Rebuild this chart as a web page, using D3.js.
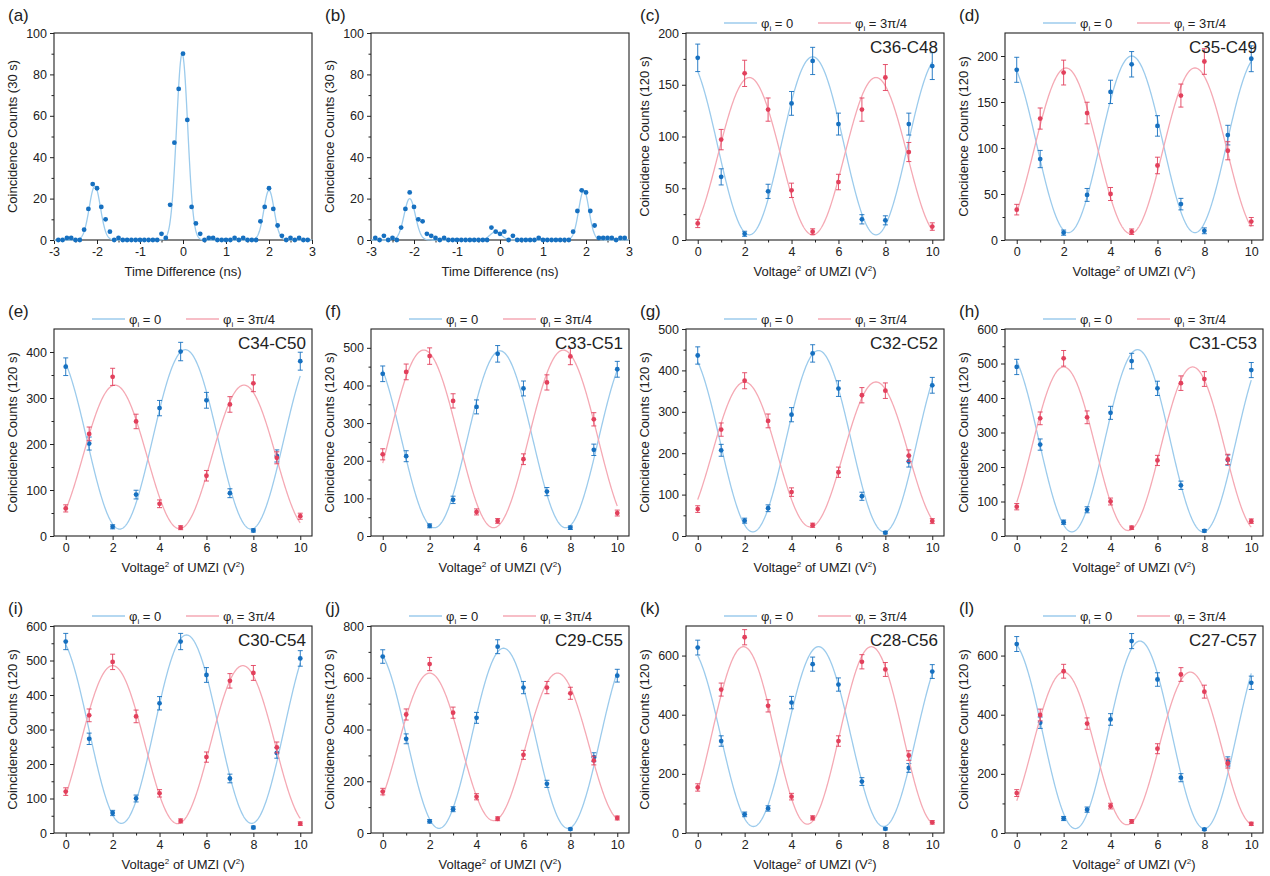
<!DOCTYPE html>
<meta charset="utf-8">
<head>
<script src="https://cdn.jsdelivr.net/npm/d3@7"></script>
<style>
  body { margin: 0; background: #fff; }
  text { font-family: "Liberation Sans", Arial, sans-serif; fill: #222; }
  .dom { fill: none; stroke: #222; stroke-width: 1.1px; }
</style>
</head>
<body>
<svg width="1270" height="876"></svg>
<script>
// ---- data ----
var tdX = d3.range(-29, 30).map(function (i) { return i / 10; });
var countsA = [0,0,1,1,0,0,5,15,27,25,16,10,4,0,1,0,0,0,0,0,0,0,0,0,3,1,17,47,73,90,58,16,8,3,0,1,1,0,0,0,0,1,0,1,0,0,0,9,16,25,15,7,2,0,1,0,1,0,0];
var countsB = [1,0,2,0,1,0,6,15,23,16,10,9,3,2,1,0,1,0,0,0,0,0,0,0,0,0,0,6,4,3,4,0,2,0,0,0,0,0,1,0,0,0,0,0,0,0,4,14,24,23,14,7,1,1,1,1,0,1,1];
// gaussian fit peaks: [centre, height, sigma]
var fitA = [[-2.05, 26, 0.13], [-0.02, 90, 0.13], [2.0, 24, 0.12]];
var fitB = [[-2.1, 20, 0.13], [-0.1, 4, 0.13], [1.95, 24, 0.12]];

var voltX = [0, 1, 2, 3, 4, 4.9, 6, 7, 8, 9, 10];
var pairs = ["C36-C48","C35-C49","C34-C50","C33-C51","C32-C52","C31-C53","C30-C54","C29-C55","C28-C56","C27-C57"];
var panelTags = ["(c)","(d)","(e)","(f)","(g)","(h)","(i)","(j)","(k)","(l)"];
var yMax = [200, 225, 450, 550, 500, 600, 600, 800, 700, 700];
var yStep = [50, 50, 100, 100, 100, 100, 100, 200, 200, 200];
var blueCounts = [
  [176,61,6,47,132,173,112,20,19,112,168],
  [185,88,8,49,161,191,124,39,10,114,197],
  [368,201,20,90,278,401,295,93,12,174,380],
  [431,212,27,96,343,484,392,118,22,229,443],
  [436,207,37,67,293,441,356,96,8,180,364],
  [490,265,40,76,357,507,428,147,15,220,481],
  [555,273,58,100,376,555,458,158,16,232,506],
  [682,364,45,92,445,720,562,190,15,293,608],
  [627,311,63,83,441,571,502,174,14,220,546],
  [639,373,49,79,384,649,519,187,12,242,508]
];
var redCounts = [
  [16,97,161,126,48,8,56,126,157,85,13],
  [33,132,182,138,50,9,81,157,194,97,20],
  [60,222,346,249,70,18,131,286,332,170,43],
  [217,436,478,359,64,40,204,408,477,310,61],
  [65,257,375,278,106,26,154,340,351,194,36],
  [85,341,515,344,100,24,219,443,455,222,43],
  [120,341,496,338,115,35,220,441,464,248,27],
  [160,458,653,465,140,55,302,562,540,280,58],
  [154,485,662,430,123,51,311,579,553,262,36],
  [135,399,547,370,91,39,285,536,478,235,31]
];
// cosine fits: [offset, amplitude, peak position, period]
var blueFit = [[91,86,4.9,5.4],[104,96,4.9,5.4],[210,195,5.1,5.6],[257,235,5.0,5.6],[229,219,5.15,5.6],
  [276,264,5.15,5.6],[301,273,5.15,5.55],[366,348,5.15,5.5],[326,304,5.15,5.55],[332,317,5.25,5.5]];
var redFit = [[81,76,2.2,5.4],[97,90,2.1,5.5],[172,156,2.1,5.5],[258,236,1.75,5.95],[197,175,2.0,5.6],
  [253,237,2.0,5.5],[256,229,2.0,5.55],[333,285,2.0,5.45],[330,300,1.95,5.45],[286,258,2.0,5.4]];

var blueDot = "#1670c0", blueLine = "#9ccbec", redDot = "#e2405c", redLine = "#f5a9b4";

// ---- layout ----
var colX = [54, 371, 686, 1005], pw = 258, ph = 207;
var rowY = [33, 329, 626];
var svg = d3.select("svg");
var blank = function () { return ""; };

function frame(px, py, x, y, xTicks, yTicks, xMinor, yMinor, tag, ytitle, xtitleSup) {
  var g = svg.append("g").attr("transform", "translate(" + px + "," + py + ")");
  g.append("rect").attr("class", "dom").attr("width", pw).attr("height", ph);
  var fmt = function (d) { return d < 0 ? "-" + Math.abs(d) : String(d); };
  g.append("g").attr("transform", "translate(0," + ph + ")")
    .call(d3.axisBottom(x).tickValues(xTicks).tickSize(4).tickSizeOuter(0).tickFormat(fmt));
  g.append("g").attr("transform", "translate(0," + ph + ")")
    .call(d3.axisBottom(x).tickValues(xMinor).tickSize(2.5).tickFormat(blank));
  g.append("g").call(d3.axisLeft(y).tickValues(yTicks).tickSize(4).tickSizeOuter(0).tickFormat(fmt));
  g.append("g").call(d3.axisLeft(y).tickValues(yMinor).tickSize(2.5).tickFormat(blank));
  g.selectAll(".domain").remove();
  g.selectAll(".tick line").attr("stroke", "#222");
  g.selectAll(".tick text").attr("font-size", 12.5).attr("fill", "#222")
    .attr("font-family", "Liberation Sans, Arial, sans-serif");
  g.append("text").attr("x", -46).attr("y", -12).attr("font-size", 17).text(tag);
  g.append("text").attr("transform", "translate(-37," + ph / 2 + ") rotate(-90)")
    .attr("text-anchor", "middle").attr("font-size", 13).text(ytitle);
  var xt = g.append("text").attr("x", pw / 2).attr("y", ph + 36).attr("text-anchor", "middle").attr("font-size", 13);
  if (xtitleSup) {
    xt.append("tspan").text("Voltage");
    xt.append("tspan").attr("font-size", 8).attr("dy", -5).text("2");
    xt.append("tspan").attr("dy", 5).text(" of UMZI (V");
    xt.append("tspan").attr("font-size", 8).attr("dy", -5).text("2");
    xt.append("tspan").attr("dy", 5).text(")");
  } else {
    xt.text("Time Difference (ns)");
  }
  return g;
}

// time-difference panels
[[countsA, fitA, "(a)"], [countsB, fitB, "(b)"]].forEach(function (p, i) {
  var x = d3.scaleLinear().domain([-3, 3]).range([0, pw]);
  var y = d3.scaleLinear().domain([0, 100]).range([ph, 0]);
  var g = frame(colX[i], rowY[0], x, y, d3.range(-3, 4), d3.range(0, 101, 20),
    d3.range(-2.5, 3, 1), d3.range(10, 100, 20), p[2], "Coincidence Counts (30 s)", false);
  var fx = d3.range(-3, 3.0001, 0.01);
  var model = function (t) {
    return d3.sum(p[1], function (q) { return q[1] * Math.exp(-Math.pow(t - q[0], 2) / (2 * q[2] * q[2])); });
  };
  g.append("path").datum(fx).attr("fill", "none").attr("stroke", blueLine).attr("stroke-width", 1.3)
    .attr("d", d3.line().x(function (t) { return x(t); }).y(function (t) { return y(model(t)); }));
  g.selectAll("circle").data(p[0]).enter().append("circle")
    .attr("cx", function (d, k) { return x(tdX[k]); }).attr("cy", function (d) { return y(d); })
    .attr("r", 2.4).attr("fill", blueDot);
});

// interference panels
pairs.forEach(function (name, i) {
  var slot = i + 2, col = slot % 4, row = Math.floor(slot / 4);
  var x = d3.scaleLinear().domain([-0.5, 10.5]).range([0, pw]);
  var y = d3.scaleLinear().domain([0, yMax[i]]).range([ph, 0]);
  var yt = d3.range(0, yMax[i] + 1, yStep[i]);
  var ym = d3.range(yStep[i] / 2, yMax[i], yStep[i]);
  var g = frame(colX[col], rowY[row], x, y, d3.range(0, 11, 2), yt, d3.range(1, 10, 2), ym,
    panelTags[i], "Coincidence Counts (120 s)", true);

  var fx = d3.range(0, 10.0001, 0.02);
  [[blueFit[i], blueLine, blueCounts[i], blueDot], [redFit[i], redLine, redCounts[i], redDot]].forEach(function (s) {
    var f = s[0];
    g.append("path").datum(fx).attr("fill", "none").attr("stroke", s[1]).attr("stroke-width", 1.3)
      .attr("d", d3.line().x(function (t) { return x(t); })
        .y(function (t) { return y(f[0] + f[1] * Math.cos(2 * Math.PI * (t - f[2]) / f[3])); }));
    var pts = g.append("g");
    s[2].forEach(function (v, k) {
      var e = Math.sqrt(v), cx = x(voltX[k]);
      pts.append("path").attr("stroke", s[3]).attr("stroke-width", 0.9).attr("fill", "none")
        .attr("d", "M" + (cx - 2.5) + "," + y(v + e) + "h5M" + cx + "," + y(v + e) + "V" + y(Math.max(0, v - e)) +
          "M" + (cx - 2.5) + "," + y(Math.max(0, v - e)) + "h5");
      pts.append("circle").attr("cx", cx).attr("cy", y(v)).attr("r", 2.4).attr("fill", s[3]);
    });
  });
  g.append("text").attr("x", pw - 6).attr("y", 20).attr("text-anchor", "end").attr("font-size", 17).text(name);

  // legend above the frame
  var lg = g.append("g").attr("transform", "translate(0,-10)");
  [[blueLine, "0", 38], [redLine, "3\u03c0/4", 132]].forEach(function (l) {
    lg.append("line").attr("x1", l[2]).attr("x2", l[2] + 33).attr("stroke", l[0]).attr("stroke-width", 1.5);
    var t = lg.append("text").attr("x", l[2] + 37).attr("y", 4.5).attr("font-size", 13);
    t.append("tspan").text("\u03c6");
    t.append("tspan").attr("font-size", 8).attr("dy", 3).text("i");
    t.append("tspan").attr("dy", -3).text(" = " + l[1]);
  });
});
</script>
</body>
